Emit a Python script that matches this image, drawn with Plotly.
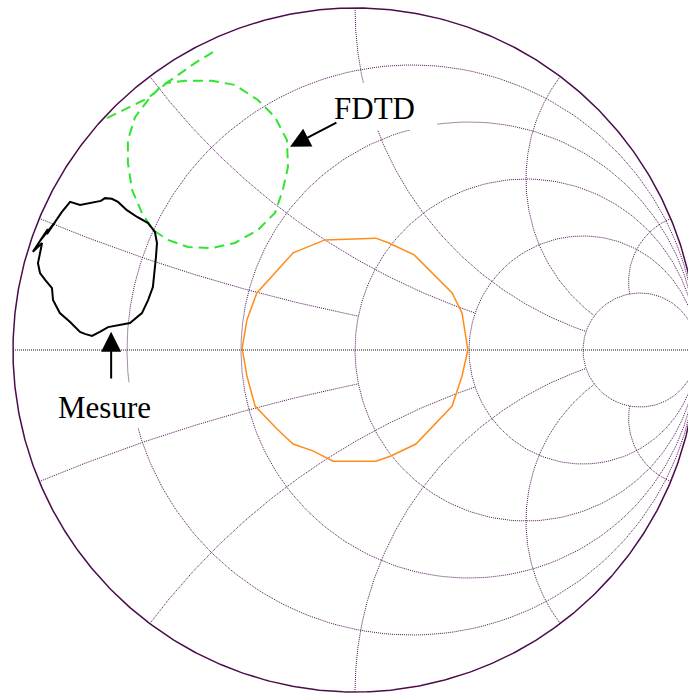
import numpy as np
import plotly.graph_objects as go

# ---------------- grid values (Smith chart) ----------------
r_circles = [0.2, 0.5, 1, 2, 5]          # constant-resistance circles (drawn fully)
x_arcs = [0.2, 0.5, 1, 2, 5]             # constant-reactance arcs
x_arc_rmax = [1, 2, 5, 5, 5]             # resistance at which each arc stops

# ---------------- data (reflection coefficient, real / imag) ----------------
vswr_re = [0.330, 0.313, 0.284, 0.173, 0.099, 0.061, -0.088, -0.181, -0.287, -0.316,
           -0.330, -0.316, -0.292, -0.228, -0.181, -0.123, -0.064, 0.061, 0.105, 0.178,
           0.284, 0.313, 0.330]
vswr_im = [0.000, 0.108, 0.167, 0.278, 0.313, 0.327, 0.322, 0.284, 0.167, 0.088,
           0.005, -0.076, -0.164, -0.231, -0.275, -0.295, -0.325, -0.325, -0.310, -0.275,
           -0.164, -0.076, 0.000]

fdtd_re = [-0.725, -0.664, -0.605, -0.550, -0.497, -0.418, -0.351, -0.284, -0.234, -0.199,
           -0.196, -0.211, -0.234, -0.284, -0.351, -0.418, -0.488, -0.547, -0.591, -0.623,
           -0.652, -0.664, -0.664, -0.643, -0.605, -0.570, -0.526, -0.468, -0.401]
fdtd_im = [0.678, 0.708, 0.737, 0.781, 0.787, 0.787, 0.775, 0.731, 0.681, 0.614,
           0.535, 0.468, 0.401, 0.351, 0.313, 0.298, 0.301, 0.322, 0.351, 0.401,
           0.468, 0.547, 0.614, 0.681, 0.731, 0.769, 0.798, 0.839, 0.880]

mesure_re = [-0.857, -0.833, -0.804, -0.769, -0.743, -0.731, -0.711, -0.693, -0.667, -0.637,
             -0.605, -0.585, -0.579, -0.582, -0.585, -0.591, -0.605, -0.623, -0.658, -0.696,
             -0.722, -0.746, -0.769, -0.790, -0.804, -0.833, -0.863, -0.883, -0.886, -0.906,
             -0.921, -0.927, -0.921, -0.915, -0.942, -0.898, -0.921, -0.877, -0.901, -0.863,
             -0.857]
mesure_im = [0.404, 0.433, 0.424, 0.430, 0.436, 0.444, 0.442, 0.433, 0.409, 0.389,
             0.371, 0.345, 0.313, 0.272, 0.234, 0.184, 0.146, 0.108, 0.079, 0.073,
             0.067, 0.053, 0.041, 0.047, 0.053, 0.082, 0.108, 0.146, 0.181, 0.205,
             0.225, 0.254, 0.284, 0.313, 0.287, 0.354, 0.319, 0.374, 0.339, 0.392,
             0.404]

labels = ["FDTD", "Mesure"]


def gamma(z):
    return (z - 1) / (z + 1)


# ---------------- grid geometry from the Smith transform ----------------
gx, gy = [], []
t = np.concatenate([-np.logspace(3, -3, 400), [0.0], np.logspace(-3, 3, 400)])
for r in r_circles:
    g = gamma(r + 1j * t)
    gx += list(g.real) + [1.0, None]
    gy += list(g.imag) + [0.0, None]
for xv, rmax in zip(x_arcs, x_arc_rmax):
    rr = np.concatenate([[0.0], np.logspace(-3, np.log10(rmax), 300)])
    for s in (1, -1):
        g = gamma(rr + 1j * s * xv)
        gx += list(g.real) + [None]
        gy += list(g.imag) + [None]

th = np.linspace(0, 2 * np.pi, 721)

fig = go.Figure()
fig.add_trace(go.Scatter(x=gx, y=gy, mode="lines", hoverinfo="skip",
                         line=dict(color="#4c1650", width=1, dash="1px,1px")))
fig.add_trace(go.Scatter(x=[-1, 1], y=[0, 0], mode="lines", hoverinfo="skip",
                         line=dict(color="#111111", width=1, dash="1px,1px")))
fig.add_trace(go.Scatter(x=np.cos(th), y=np.sin(th), mode="lines", hoverinfo="skip",
                         line=dict(color="#4a0c4a", width=1.5)))
fig.add_trace(go.Scatter(x=vswr_re, y=vswr_im, mode="lines", hoverinfo="skip",
                         line=dict(color="#ff8c1a", width=1.5)))
fig.add_trace(go.Scatter(x=fdtd_re, y=fdtd_im, mode="lines", hoverinfo="skip",
                         line=dict(color="#2ee62e", width=2, dash="10px,6px")))
fig.add_trace(go.Scatter(x=mesure_re, y=mesure_im, mode="lines", hoverinfo="skip",
                         line=dict(color="#000000", width=2)))

# white boxes behind the labels (they hide the grid)
fig.add_shape(type="rect", x0=-0.102, x1=0.240, y0=0.643, y1=0.781, layer="above",
              fillcolor="white", line=dict(width=0))
fig.add_shape(type="rect", x0=-0.892, x1=-0.570, y0=-0.228, y1=-0.094, layer="above",
              fillcolor="white", line=dict(width=0))

font = dict(family="Liberation Serif, Times New Roman, serif", size=31, color="black")
fig.add_annotation(x=0.057, y=0.706, text=labels[0], showarrow=False, font=font,
                   xref="x", yref="y")
fig.add_annotation(x=-0.732, y=-0.167, text=labels[1], showarrow=False, font=font,
                   xref="x", yref="y")
# arrows
fig.add_annotation(x=-0.190, y=0.594, ax=-0.050, ay=0.667, xref="x", yref="y",
                   axref="x", ayref="y", text="", showarrow=True, arrowhead=2,
                   arrowwidth=2, arrowsize=2, arrowcolor="black")
fig.add_annotation(x=-0.713, y=0.053, ax=-0.713, ay=-0.088, xref="x", yref="y",
                   axref="x", ayref="y", text="", showarrow=True, arrowhead=2,
                   arrowwidth=2, arrowsize=2, arrowcolor="black")

fig.update_layout(
    width=688, height=693,
    margin=dict(l=0, r=0, t=0, b=0),
    paper_bgcolor="white", plot_bgcolor="white",
    showlegend=False, hovermode=False,
    xaxis=dict(range=[-355 / 342, 333 / 342], visible=False, fixedrange=True),
    yaxis=dict(range=[-343 / 342, 350 / 342], visible=False, fixedrange=True),
)

fig.write_html("out.html", config={"displayModeBar": False},
               post_script="document.body.style.margin='0';document.body.style.padding='0';")
